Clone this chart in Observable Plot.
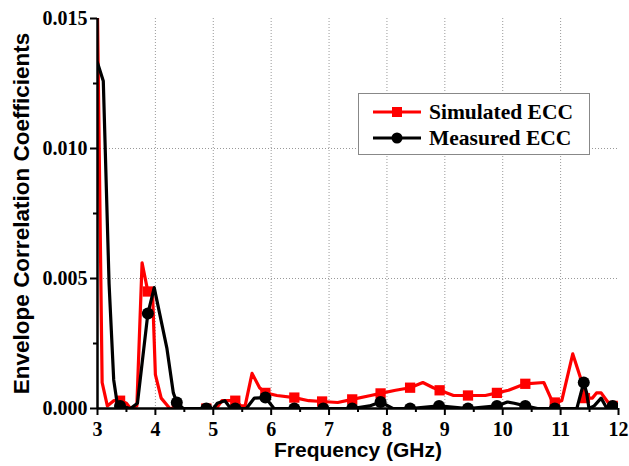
<!DOCTYPE html>
<html>
<head>
<meta charset="utf-8">
<script src="https://cdn.jsdelivr.net/npm/d3@7"></script>
<script src="https://cdn.jsdelivr.net/npm/@observablehq/plot@0.6"></script>
<style>
  html, body { margin: 0; padding: 0; background: #fff; }
  #wrap { position: relative; width: 629px; height: 466px; }
  #wrap svg { font-family: "Liberation Serif", serif; }
  g[aria-label="x-axis tick label"] text, g[aria-label="y-axis tick label"] text {
    font-family: "Liberation Serif", serif; font-weight: bold; font-size: 20px;
  }
  g[aria-label="x-axis label"] text {
    font-family: "Liberation Sans", Arial, sans-serif; font-weight: bold; font-size: 21px;
  }
  g[aria-label="y-axis label"] text {
    font-family: "Liberation Sans", Arial, sans-serif; font-weight: bold; font-size: 22.5px;
  }
  #legend {
    position: absolute; left: 358px; top: 93px; width: 232px; height: 62px;
    border: 1.5px solid #888; background: #fff; box-sizing: border-box;
    font-family: "Liberation Serif", serif; font-weight: bold; font-size: 21.5px;
  }
  .row { position: absolute; left: 12px; height: 26px; display: flex; align-items: center; white-space: nowrap; }
  .row span { margin-left: 6px; }
</style>
</head>
<body>
<div id="wrap"></div>
<script>
// Simulated ECC (red line)
const simFreq = [3.00,3.08,3.17,3.28,3.39,3.50,3.57,3.68,3.77,3.87,3.95,4.00,4.10,4.25,4.37,4.88,5.05,5.15,5.38,5.48,5.55,5.67,5.80,5.90,6.10,6.40,6.65,6.88,7.15,7.40,7.72,7.89,8.15,8.40,8.62,8.80,8.91,9.15,9.40,9.70,9.90,10.10,10.39,10.71,10.85,10.90,11.02,11.21,11.37,11.42,11.55,11.62,11.70,11.83,11.90,12.00];
const simECC  = [0.0152,0.0010,0.0001,0.0003,0.0003,0.0002,0.0000,0.0001,0.0056,0.0045,0.0045,0.0013,0.0004,0.0000,0.0000,0.0000,0.0000,0.0003,0.0003,0.0001,0.0001,0.00135,0.0008,0.0006,0.0005,0.00042,0.0003,0.00027,0.00023,0.00035,0.0005,0.00058,0.0007,0.0008,0.0010,0.0008,0.0007,0.0005,0.0005,0.0005,0.0006,0.0007,0.00095,0.0010,0.0003,0.00023,0.0003,0.0021,0.0010,0.0004,0.0004,0.0006,0.0006,0.0002,0.0001,0.0000];
// Simulated ECC markers
const simMarkFreq = [3.39,3.87,4.37,4.88,5.38,5.90,6.40,6.88,7.40,7.89,8.40,8.91,9.40,9.90,10.39,10.90,11.42,11.90];
const simMarkECC  = [0.0003,0.0045,0.0000,0.0000,0.0003,0.0006,0.00042,0.00027,0.00035,0.00058,0.0008,0.0007,0.0005,0.0006,0.00095,0.00023,0.0004,0.0001];

// Measured ECC (black line)
const measFreq = [3.00,3.10,3.20,3.28,3.34,3.39,3.57,3.69,3.87,3.98,4.20,4.31,4.37,4.48,4.88,5.00,5.07,5.20,5.30,5.38,5.57,5.71,5.90,6.05,6.40,6.90,7.40,7.70,7.89,8.10,8.40,8.90,9.40,9.90,10.08,10.20,10.39,10.60,10.90,11.28,11.40,11.45,11.49,11.58,11.70,11.80,11.90,12.00];
const measECC  = [0.0133,0.0126,0.0048,0.0011,0.0002,0.0001,0.0000,0.0002,0.00365,0.00465,0.0023,0.0006,0.00023,0.0000,0.0000,0.0000,0.0002,0.0003,0.0000,0.0000,0.0000,0.0004,0.00042,0.0000,0.0000,0.0000,0.0000,0.0001,0.00025,0.0000,0.0000,0.0001,0.0000,0.0001,0.00025,0.0002,0.0001,0.0000,0.0000,0.0000,0.0010,0.0006,0.0000,0.0001,0.0004,0.0000,0.0001,0.0000];
const measMarkFreq = [3.39,3.87,4.37,4.88,5.38,5.90,6.40,6.90,7.40,7.89,8.40,8.90,9.40,9.90,10.39,10.90,11.40,11.90];
const measMarkECC  = [0.0001,0.00365,0.00023,0.0000,0.0000,0.00042,0.0000,0.0000,0.0000,0.00025,0.0000,0.0001,0.0000,0.0001,0.0001,0.0000,0.0010,0.0001];

const xTicks = [3,4,5,6,7,8,9,10,11,12];
const xMinor = [3.5,4.5,5.5,6.5,7.5,8.5,9.5,10.5,11.5];
const yTicks = [0, 0.005, 0.010, 0.015];
const yMinor = [0.0025, 0.0075, 0.0125];
const seriesNames = ["Simulated ECC", "Measured ECC"];
const seriesColors = ["#ff0000", "#000000"];

const sim = simFreq.map((f, i) => ({f, v: simECC[i]}));
const simM = simMarkFreq.map((f, i) => ({f, v: simMarkECC[i]}));
const meas = measFreq.map((f, i) => ({f, v: measECC[i]}));
const measM = measMarkFreq.map((f, i) => ({f, v: measMarkECC[i]}));

const chart = Plot.plot({
  width: 629, height: 466,
  marginLeft: 97, marginRight: 11, marginTop: 18, marginBottom: 58,
  x: {domain: [3, 12]},
  y: {domain: [0, 0.015]},
  marks: [
    Plot.gridX(xTicks.slice(1, -1), {stroke: "#999", strokeOpacity: 1, strokeDasharray: "1,2", strokeWidth: 1}),
    Plot.gridY([0.005, 0.010], {stroke: "#999", strokeOpacity: 1, strokeDasharray: "1,2", strokeWidth: 1}),
    Plot.line(sim, {x: "f", y: "v", stroke: seriesColors[0], strokeWidth: 3.2, clip: true}),
    Plot.dot(simM, {x: "f", y: "v", symbol: "square", r: 5.8, fill: seriesColors[0], clip: true}),
    Plot.line(meas, {x: "f", y: "v", stroke: seriesColors[1], strokeWidth: 3.2, clip: true}),
    Plot.dot(measM, {x: "f", y: "v", symbol: "circle", r: 6, fill: seriesColors[1], clip: true}),
    Plot.axisX({ticks: xTicks, tickSize: 7, tickPadding: 6, strokeWidth: 2, tickFormat: d => String(d),
      label: "Frequency (GHz)", labelAnchor: "center", labelArrow: "none", labelOffset: 48}),
    Plot.axisX({ticks: xMinor, tickSize: 4, strokeWidth: 2, tickFormat: null, label: null, text: null}),
    Plot.axisY({ticks: yTicks, tickSize: 7, tickPadding: 3, strokeWidth: 2, tickFormat: d3.format(".3f"),
      label: "Envelope Correlation Coefficients", labelAnchor: "center", labelArrow: "none", labelOffset: 84}),
    Plot.axisY({ticks: yMinor, tickSize: 4, strokeWidth: 2, label: null, text: null}),
    Plot.ruleY([0], {stroke: "black", strokeWidth: 2.5}),
    Plot.ruleX([3], {stroke: "black", strokeWidth: 2.5})
  ]
});
const wrap = document.getElementById("wrap");
wrap.appendChild(chart);

// Legend
const legend = document.createElement("div");
legend.id = "legend";
seriesNames.forEach((name, i) => {
  const row = document.createElement("div");
  row.className = "row";
  row.style.top = (i === 0 ? 5 : 31) + "px";
  const sw = d3.create("svg").attr("width", 52).attr("height", 20);
  sw.append("line").attr("x1", 2).attr("x2", 50).attr("y1", 10).attr("y2", 10)
    .attr("stroke", seriesColors[i]).attr("stroke-width", 3);
  if (i === 0) sw.append("rect").attr("x", 21).attr("y", 5).attr("width", 10).attr("height", 10).attr("fill", seriesColors[i]);
  else sw.append("circle").attr("cx", 26).attr("cy", 10).attr("r", 5.5).attr("fill", seriesColors[i]);
  row.appendChild(sw.node());
  const t = document.createElement("span");
  t.textContent = name;
  row.appendChild(t);
  legend.appendChild(row);
});
wrap.appendChild(legend);
</script>
</body>
</html>
